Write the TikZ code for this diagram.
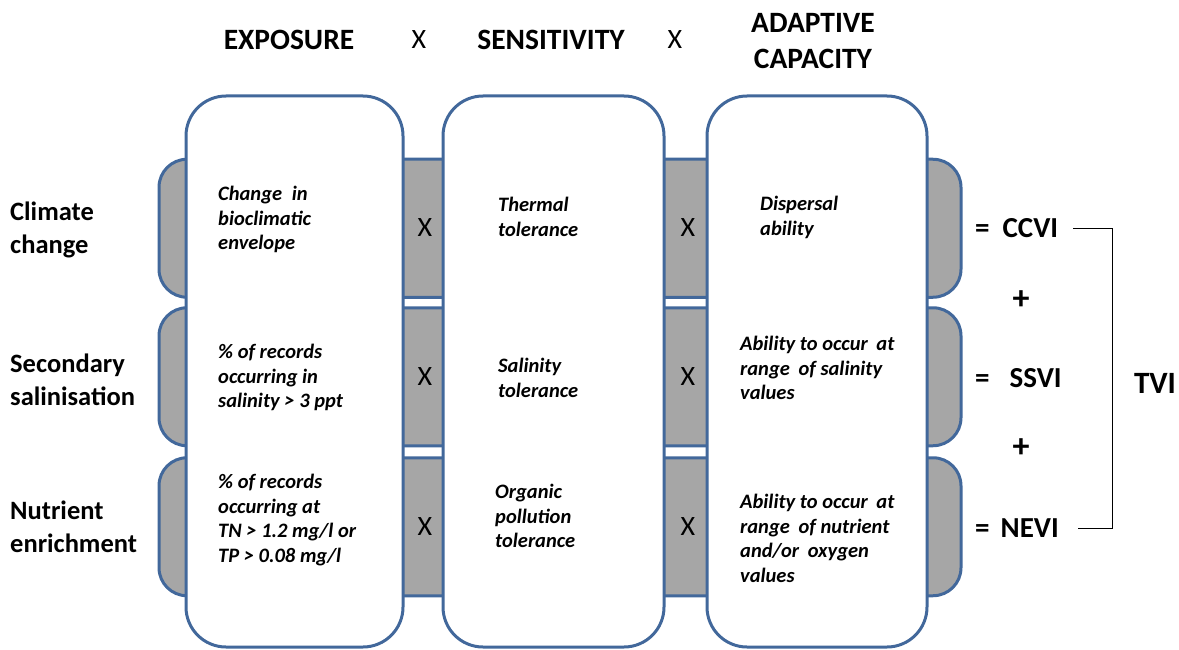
\documentclass[tikz,border=0pt]{standalone}
\usepackage{fontspec}
\setmainfont{Carlito}
\definecolor{bordblue}{RGB}{66,104,155}
\definecolor{bandgray}{RGB}{166,166,166}
\begin{document}
\begin{tikzpicture}[x=1pt,y=-1pt,
  band/.style={draw=bordblue, fill=bandgray, line width=3pt, rounded corners=28pt, minimum width=802pt, minimum height=138pt, inner sep=0pt},
  col/.style={draw=bordblue, fill=white, line width=3pt, rounded corners=40pt, minimum height=551pt, inner sep=0pt},
  hdr/.style={font=\fontsize{29.5}{36}\selectfont\bfseries, align=center, inner sep=0pt},
  hx/.style={font=\fontsize{28}{30}\selectfont, inner sep=0pt},
  rowlbl/.style={font=\fontsize{26.5}{33}\selectfont\bfseries, align=left, anchor=west, inner sep=0pt},
  desc/.style={font=\fontsize{20.5}{24.7}\selectfont\bfseries\itshape, align=left, anchor=north west, inner sep=0pt},
  mx/.style={font=\fontsize{28}{30}\selectfont, inner sep=0pt},
  eq/.style={font=\fontsize{29}{30}\selectfont\bfseries, inner sep=0pt, anchor=west},
  plus/.style={font=\fontsize{34}{36}\selectfont\bfseries, inner sep=0pt},
  bracket/.style={draw=black, line width=1pt},
]
\useasboundingbox (0,0) rectangle (1179,650);

% header
\node[hdr] (hexp) at (289,40) {EXPOSURE};
\node[hx] (hx1) at (419,40) {X};
\node[hdr] (hsen) at (551,40) {SENSITIVITY};
\node[hx] (hx2) at (675,40) {X};
\node[hdr] (hadc) at (813,41) {ADAPTIVE\\CAPACITY};

% gray bands
\node[band] (band1) at (560,228.25) {};
\node[band] (band2) at (560,376.75) {};
\node[band] (band3) at (560,526.75) {};

% white columns
\node[col, minimum width=217pt] (col1) at (294.5,371.5) {};
\node[col, minimum width=221pt] (col2) at (553.5,371.5) {};
\node[col, minimum width=220pt] (col3) at (817,371.5) {};

% row labels
\node[rowlbl] (r1) at (10,230) {Climate\\change};
\node[rowlbl] (r2) at (10,380) {Secondary\\salinisation};
\node[rowlbl] (r3) at (10,527) {Nutrient\\enrichment};

% multiplication signs between columns
\node[mx] (x11) at (425,228) {X};
\node[mx] (x12) at (688,228) {X};
\node[mx] (x21) at (425,377) {X};
\node[mx] (x22) at (688,377) {X};
\node[mx] (x31) at (425,527) {X};
\node[mx] (x32) at (688,527) {X};

% descriptions
\node[desc] (d11) at (218,186) {Change\hspace{0.25em} in\\bioclimatic\\envelope};
\node[desc] (d21) at (218,344) {\% of records\\occurring in\\salinity > 3 ppt};
\node[desc] (d31) at (218,474) {\% of records\\occurring at\\TN > 1.2 mg/l or\\TP > 0.08 mg/l};
\node[desc] (d12) at (498,197) {Thermal\\tolerance};
\node[desc] (d22) at (498,358) {Salinity\\tolerance};
\node[desc] (d32) at (495,484) {Organic\\pollution\\tolerance};
\node[desc] (d13) at (760,196) {Dispersal\\ability};
\node[desc] (d23) at (740,336) {Ability to occur\hspace{0.2em} at\\range\hspace{0.2em} of salinity\\values};
\node[desc] (d33) at (740,494) {Ability to occur\hspace{0.2em} at\\range\hspace{0.2em} of nutrient\\and/or\hspace{0.2em} oxygen\\values};

% results
\node[eq] (ccvi) at (975,228) {=\hspace{13pt}CCVI};
\node[plus] (p1) at (1021,300) {+};
\node[eq] (ssvi) at (975,378) {=\hspace{20pt}SSVI};
\node[plus] (p2) at (1021,448) {+};
\node[eq] (nevi) at (975,528) {=\hspace{11pt}NEVI};
\node[font=\fontsize{31}{36}\selectfont\bfseries, inner sep=0pt] (tvi) at (1155,383) {TVI};

\coordinate (bt) at (1112,228);
\coordinate (bb) at (1112,528);
\draw[bracket] ([xshift=15pt]ccvi.east) -- (bt) -- (bb) -- ([xshift=19pt]nevi.east);
\end{tikzpicture}
\end{document}
